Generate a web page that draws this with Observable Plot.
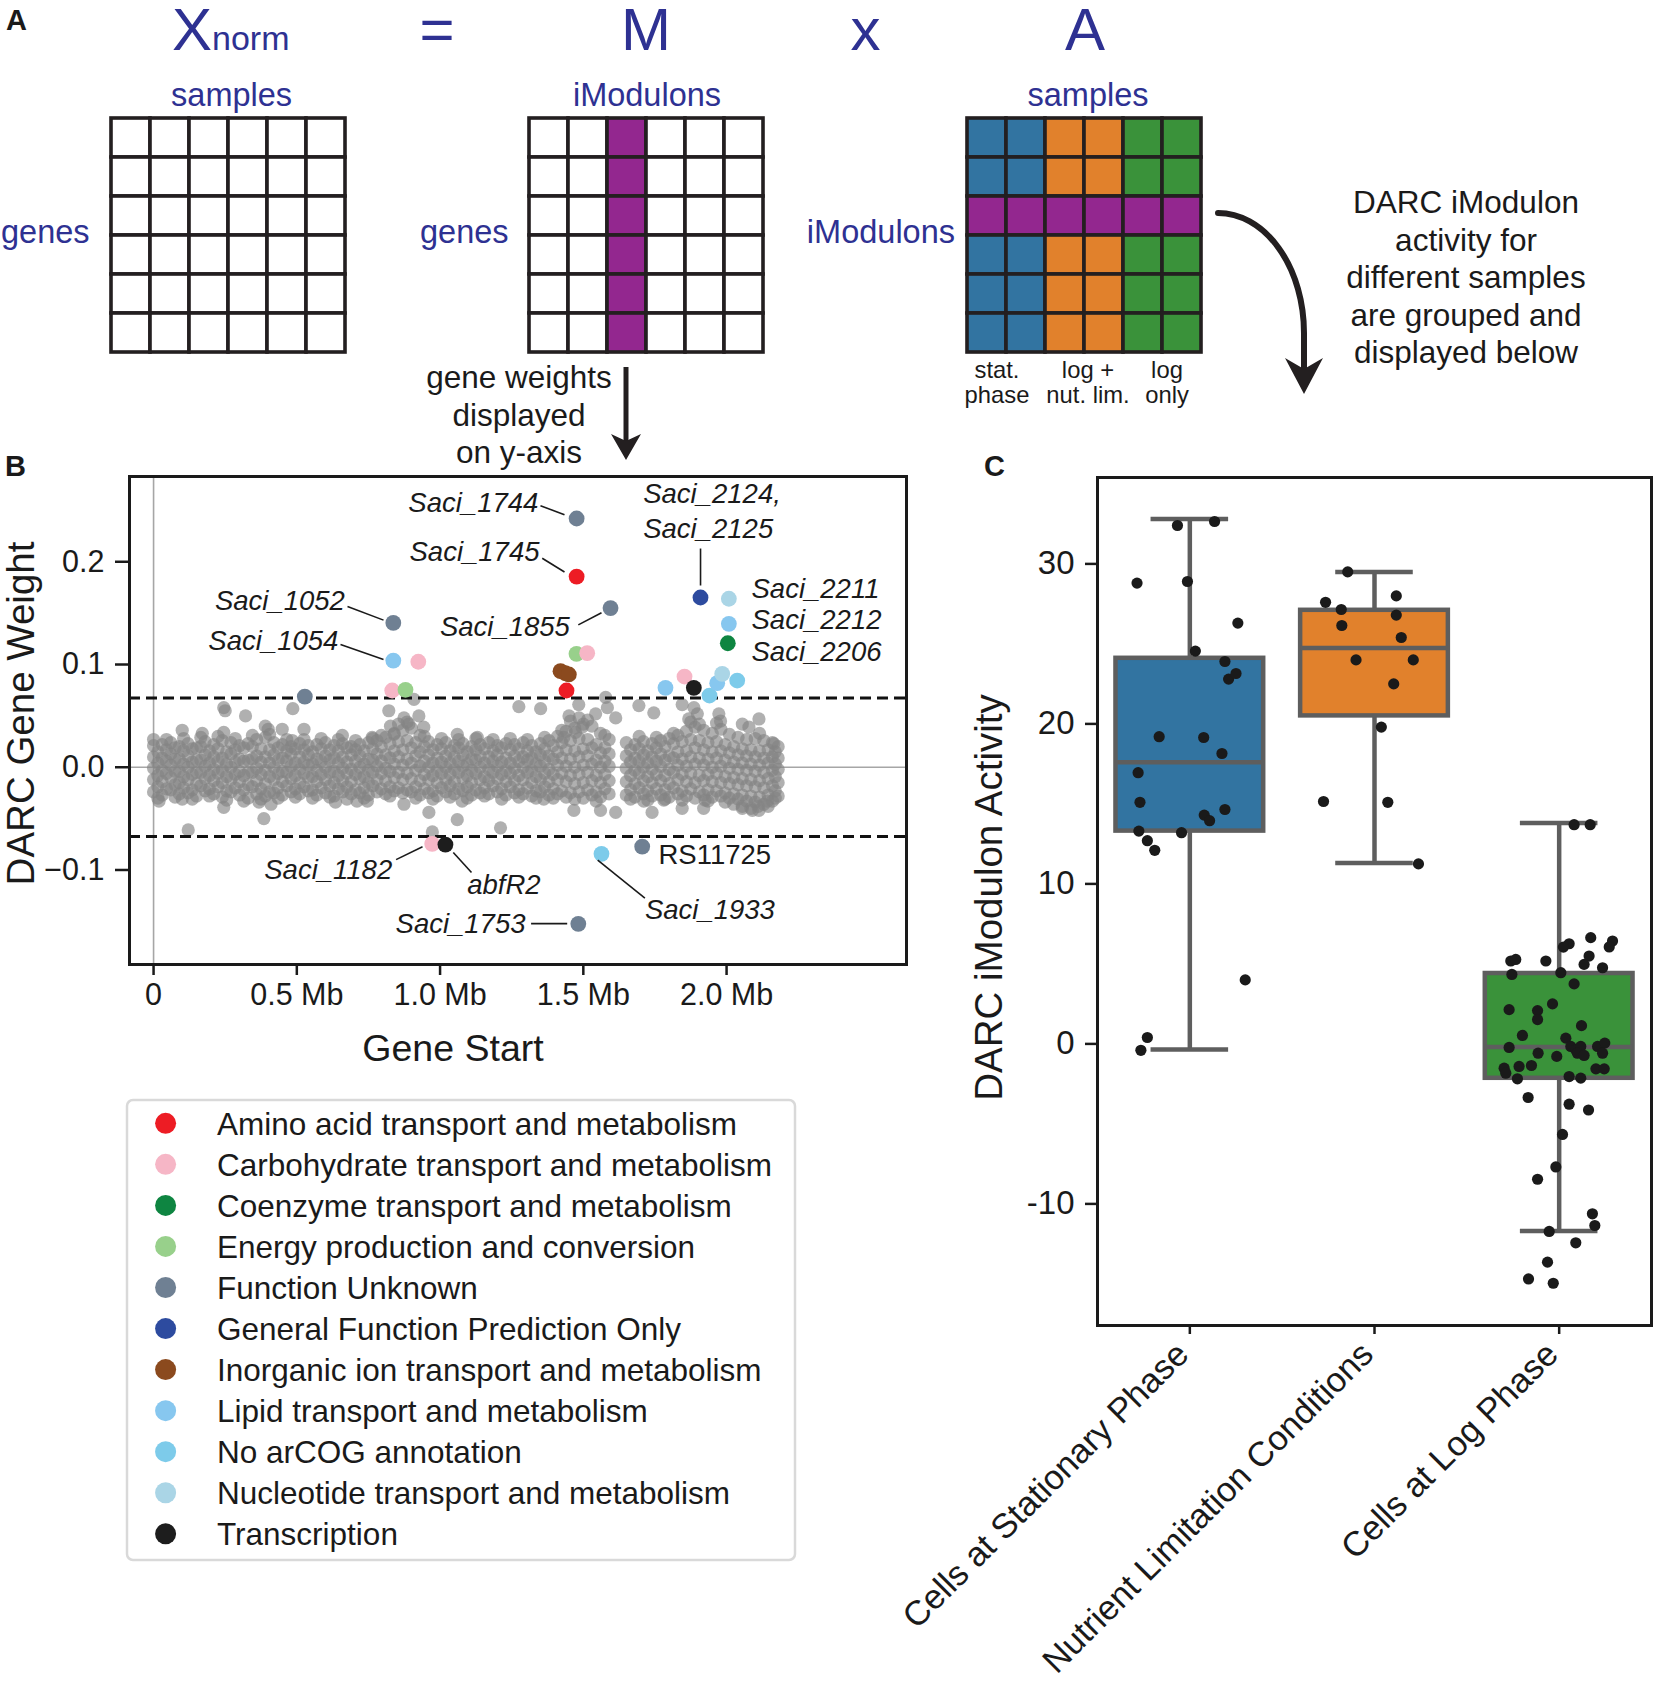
<!DOCTYPE html>
<html><head><meta charset="utf-8">
<script src="https://cdn.jsdelivr.net/npm/d3@7"></script>
<script src="https://cdn.jsdelivr.net/npm/@observablehq/plot@0.6"></script>
<style>
body{margin:0;background:#fff;}
#page{position:relative;width:1655px;height:1682px;overflow:hidden;background:#fff;font-family:"Liberation Sans",Arial,sans-serif;}
.holder{position:absolute;}
.holder svg{max-width:none;display:block;}
</style></head><body><div id="page"></div>
<script>
const FONT = "'Liberation Sans', Arial, Helvetica, sans-serif";

// ---------------- Panel A: matrix schematic ----------------
const matrixRows = [0, 1, 2, 3, 4, 5];
const matrixCols = [0, 1, 2, 3, 4, 5];
const highlightedCol = 2;      // DARC iModulon column in M
const highlightedRow = 2;      // DARC iModulon row in A
const sampleGroupOfCol = ["stat", "stat", "nut", "nut", "log", "log"];
const sampleGroupColor = {stat: "#3274a1", nut: "#e1812c", log: "#3a923a"};
const imodulonColor = "#93278f";

// ---------------- Panel B: gene weights ----------------
const cogCategories = [
  "Amino acid transport and metabolism",
  "Carbohydrate transport and metabolism",
  "Coenzyme transport and metabolism",
  "Energy production and conversion",
  "Function Unknown",
  "General Function Prediction Only",
  "Inorganic ion transport and metabolism",
  "Lipid transport and metabolism",
  "No arCOG annotation",
  "Nucleotide transport and metabolism",
  "Transcription"
];
const cogColors = ["#ed1c24", "#f6b6c6", "#0e8541", "#98d08b", "#6f8093", "#2d4b9f",
                   "#8b4a1e", "#87c7ef", "#7dcbea", "#aad5e6", "#1d1d1d"];

const darcThreshold = 0.0675;

// dense core of genes: start position (Mb) and weights (x 1/1000), read column by column
const coreStartMb = [0,0.03,0.06,0.09,0.12,0.15,0.18,0.21,0.24,0.27,0.30,0.33,0.36,0.39,0.42,0.45,0.48,0.51,0.54,0.57,0.60,0.63,0.66,0.69,0.72,0.75,0.78,0.81,0.84,0.87,0.90,0.93,0.96,0.99,1.02,1.05,1.08,1.11,1.14,1.17,1.20,1.23,1.26,1.29,1.32,1.35,1.38,1.41,1.44,1.47,1.50,1.53,1.56,1.59,1.65,1.68,1.71,1.74,1.77,1.80,1.83,1.86,1.89,1.92,1.95,1.98,2.01,2.04,2.07,2.10,2.13,2.16,2.18];
const coreWeightMilli = [
  [-24,-12,-1,10,21],[-27,-14,-3,9,22],[-22,-10,2,13,24],[-26,-15,-4,8,20],[-25,-12,0,11,23],
  [-28,-16,-5,7,19],[-23,-11,1,12,25],[-26,-13,-2,10,22],[-29,-15,-3,9,26],[-24,-12,0,13,24],
  [-27,-14,-4,8,21],[-30,-17,-5,7,23],[-26,-13,-1,11,27],[-28,-16,-3,10,29],[-25,-12,0,12,24],
  [-27,-14,-4,9,22],[-24,-11,1,13,20],[-26,-15,-2,10,23],[-23,-10,2,12,21],[-27,-14,-3,8,22],
  [-25,-12,0,11,24],[-28,-15,-4,9,21],[-24,-13,-1,10,23],[-26,-14,-2,12,20],[-25,-11,0,11,22],
  [-27,-15,-3,8,24],[-24,-12,1,13,26],[-26,-13,-1,12,29],[-23,-10,3,16,33],[-25,-12,2,17,36],
  [-24,-11,4,19,38],[-27,-13,1,15,31],[-25,-12,0,12,25],[-28,-15,-3,9,22],[-24,-12,0,11,24],
  [-26,-14,-2,10,21],[-23,-11,1,12,23],[-27,-15,-3,8,20],[-25,-12,0,11,22],[-26,-13,-2,10,24],
  [-24,-11,1,12,21],[-27,-14,-3,9,23],[-25,-13,-1,11,22],[-26,-12,0,10,24],[-28,-15,-3,9,21],
  [-24,-12,1,12,23],[-27,-14,-2,11,26],[-26,-12,2,15,30],[-29,-14,1,17,35],[-31,-16,0,16,38],
  [-30,-15,2,18,42],[-27,-13,3,19,40],[-29,-15,0,14,33],[-26,-13,1,13,27],
  [-27,-14,-1,11,24],[-29,-16,-3,9,22],[-26,-13,0,12,25],[-28,-15,-2,10,23],[-27,-13,1,13,26],
  [-29,-16,-2,11,28],[-26,-12,2,15,31],[-28,-14,1,16,35],[-30,-15,3,19,39],[-27,-13,2,17,36],
  [-29,-14,0,15,33],[-28,-15,1,16,37],[-30,-16,-1,14,32],[-31,-17,-2,12,29],[-33,-18,-3,11,27],
  [-34,-19,-4,10,28],[-36,-20,-5,9,26],[-33,-18,-3,10,24],[-28,-15,-2,9,20]
];
// genes lying between those columns
const midStartMb = [0.015,0.045,0.075,0.105,0.135,0.165,0.195,0.225,0.255,0.285,0.315,0.345,0.375,0.405,0.435,0.465,0.495,0.525,0.555,0.585,0.615,0.645,0.675,0.705,0.735,0.765,0.795,0.825,0.855,0.885,0.915,0.945,0.975,1.005,1.035,1.065,1.095,1.125,1.155,1.185,1.215,1.245,1.275,1.305,1.335,1.365,1.395,1.425,1.455,1.485,1.515,1.545,1.575,1.665,1.695,1.725,1.755,1.785,1.815,1.845,1.875,1.905,1.935,1.965,1.995,2.025,2.055,2.085,2.115,2.145,2.17];
const midWeightMilli = [
  [-19,-8,4,15,-30],[-21,-6,6,17,27],[-17,-4,8,19,-29],[-20,-9,3,16,28],[-22,-7,5,18,-31],
  [-18,-5,7,20,29],[-21,-8,4,16,-28],[-19,-6,6,18,30],[-23,-9,3,15,-32],[-20,-7,5,17,28],
  [-22,-8,6,19,-33],[-19,-5,8,20,31],[-21,-7,5,18,-31],[-24,-9,4,17,32],[-20,-6,7,19,-30],
  [-18,-5,6,16,27],[-21,-8,4,18,-29],[-19,-6,5,17,27],[-22,-9,3,15,-30],[-20,-7,6,18,28],
  [-18,-5,7,17,-29],[-21,-8,4,16,27],[-19,-6,5,19,-31],[-22,-7,6,17,26],[-20,-9,3,16,-30],
  [-18,-5,7,18,28],[-21,-6,6,20,31],[-19,-4,9,23,-28],[-20,-5,10,25,42],[-22,-6,8,26,44],
  [-19,-3,11,24,-30],[-21,-7,6,20,30],[-23,-8,4,17,-31],[-20,-6,5,18,28],[-18,-7,4,16,-29],
  [-21,-5,6,19,27],[-19,-8,3,15,-30],[-22,-6,7,17,28],[-20,-9,4,18,-28],[-18,-5,6,16,27],
  [-21,-7,5,19,-31],[-19,-6,4,17,28],[-22,-8,6,18,-29],[-20,-5,7,16,27],[-23,-9,3,15,-30],
  [-19,-6,6,18,29],[-21,-7,8,21,-30],[-23,-6,9,24,36],[-25,-8,8,26,45],[-24,-7,10,28,48],
  [-22,-5,11,27,46],[-24,-8,7,22,-33],[-21,-7,6,19,31],
  [-22,-8,5,17,-31],[-20,-6,6,18,30],[-23,-9,4,16,-32],[-21,-7,6,19,29],[-22,-8,7,20,-31],
  [-20,-5,9,23,33],[-23,-7,8,25,-32],[-21,-6,10,27,44],[-24,-8,9,26,42],[-22,-7,8,24,-33],
  [-23,-6,9,25,43],[-25,-9,7,22,-34],[-26,-10,5,20,-36],[-27,-11,4,18,-38],[-28,-12,3,17,-40],
  [-29,-13,2,16,33],[-27,-11,4,17,-38],[-23,-9,3,15,-30]
];
// scattered genes outside the core (gray)
const outlierStartMb = [0.245,0.25,0.321,0.486,0.525,0.484,0.39,0.40,0.449,0.10,0.0,0.368,0.41,0.385,0.121,0.019,0.10,0.245,0.635,0.71,0.659,0.245,0.17,0.821,0.909,0.874,0.926,0.943,0.891,0.827,0.839,0.763,1.06,1.275,1.351,1.45,1.484,1.432,1.473,1.496,1.13,0.961,1.06,1.211,1.467,0.874,1.077,1.362,0.746,0.973,1.578,1.584,1.694,1.746,1.845,1.886,1.868,1.898,1.973,1.979,2.113,2.055,2.078,1.543,1.613,2.165,1.56,1.613,1.711,1.74,1.781,1.845,1.92,1.925,2.055,2.09,2.11,2.113,2.142];
const outlierWeightMilli = [58,55,50,57,37,26,40,37,37,36,27,-34,-36,-50,-61,-33,-31,-39,-34,-33,31,34,33,55,66,48,50,39,42,40,32,29,32,59,57,50,61,29,34,39,29,-44,-51,-59,-42,-36,-33,-31,-33,-63,68,58,60,53,61,58,47,52,52,45,47,42,39,52,48,23,-42,-44,-33,-44,-32,-40,-40,-32,-40,-42,-38,-42,-33];

// iModulon member genes (coloured by arCOG)
const hitStartMb = [1.4766,1.4766,1.4825,0.8368,0.8368,0.924,1.595,1.909,2.008,2.008,2.0043,0.5279,0.833,0.8793,1.4762,1.5135,1.4204,1.437,1.4494,1.4413,0.9725,1.0187,1.8532,1.7868,1.8857,1.9404,1.9673,1.9848,2.0371,1.7055,1.5634];
const hitWeight  = [0.2421,0.1856,-0.1524,0.1405,0.1038,0.1027,0.1549,0.1652,0.164,0.1396,0.1207,0.0688,0.0747,0.0754,0.1104,0.111,0.0935,0.0915,0.0903,0.0747,-0.0746,-0.0753,0.0883,0.0773,0.0773,0.0698,0.0818,0.0909,0.0844,-0.0772,-0.0843];
const hitCog     = [4,0,4,4,7,1,4,5,9,7,2,4,1,3,3,1,6,6,6,0,1,10,1,7,10,8,7,9,8,4,8];

// gene labels: text, Mb, weight, anchor
const geneLabels = [
  ["Saci_1744", 1.3429, 0.2568, "end"], ["Saci_1745", 1.347, 0.2089, "end"],
  ["Saci_1052", 0.6678, 0.1613, "end"], ["Saci_1054", 0.6448, 0.1224, "end"],
  ["Saci_1855", 1.4532, 0.1367, "end"], ["Saci_1182", 0.8329, -0.1006, "end"],
  ["Saci_1753", 1.2982, -0.1532, "end"],
  ["Saci_2124,", 1.709, 0.2655, "start"], ["Saci_2125", 1.709, 0.2318, "start"],
  ["Saci_2211", 2.087, 0.1737, "start"], ["Saci_2212", 2.087, 0.1428, "start"],
  ["Saci_2206", 2.087, 0.112, "start"], ["abfR2", 1.0947, -0.1152, "start"],
  ["Saci_1933", 1.715, -0.1395, "start"]
];
const locusLabel = ["RS11725", 1.7624, -0.086];
const labelLeaders = [
  [1.3505,0.2546,1.4343,0.2457],[1.3565,0.2034,1.4343,0.1901],[0.6769,0.1565,0.8026,0.1432],
  [0.6525,0.1195,0.8026,0.1049],[1.4825,0.1386,1.5635,0.1504],[1.9091,0.2129,1.9091,0.1769],
  [0.8465,-0.0899,0.9387,-0.0774],[1.1097,-0.1025,1.0462,-0.0829],[1.3177,-0.1522,1.4437,-0.1522],
  [1.5502,-0.0905,1.7149,-0.1273]
];
const weightTicks = [-0.1, 0, 0.1, 0.2];
const startTicks = [0, 0.5, 1.0, 1.5, 2.0];

// ---------------- Panel C: iModulon activity ----------------
const groupNames = ["Cells at Stationary Phase", "Nutrient Limitation Conditions", "Cells at Log Phase"];
const groupColors = ["#3274a1", "#e1812c", "#3a923a"];
const whiskerLow  = [-0.35, 11.3, -11.7];
const quartile1   = [13.3, 20.5, -2.15];
const medianAct   = [17.6, 24.75, -0.2];
const quartile3   = [24.1, 27.1, 4.4];
const whiskerHigh = [32.8, 29.5, 13.8];
const stationaryActivity = [32.4,32.65,28.8,28.9,26.3,24.55,23.9,22.8,23.15,19.2,19.15,18.15,16.95,15.1,14.3,13.95,14.65,13.3,12.7,12.1,13.2,4.0,0.4,-0.4];
const stationaryJitter   = [-0.067,0.134,-0.286,-0.013,0.26,0.03,0.19,0.21,0.25,-0.166,0.075,0.174,-0.28,-0.27,0.078,0.107,0.19,-0.276,-0.23,-0.19,-0.045,0.30,-0.23,-0.265];
const nutrientActivity = [29.5,27.6,27.15,28.0,26.15,26.8,25.4,24.0,24.0,22.5,19.8,15.15,15.1,11.25];
const nutrientJitter   = [-0.145,-0.265,-0.18,0.118,-0.177,0.118,0.145,-0.10,0.21,0.104,0.037,-0.276,0.072,0.238];
const logActivity = [6.64,6.43,6.06,6.26,6.05,5.49,4.97,4.76,5.18,5.28,5.18,4.34,4.45,3.75,2.14,2.08,1.52,2.5,1.14,0.53,0.36,-0.22,-0.16,-0.37,-0.16,-0.58,-0.72,-0.16,0.05,-0.58,-0.58,-0.78,-1.52,-1.83,-1.41,-1.35,-2.18,-1.56,-1.56,-2.04,-2.14,-3.35,-3.77,-4.13,-5.66,-7.69,-8.46,-10.62,-11.35,-11.72,-12.43,-13.64,-14.69,-14.96,13.7,13.7];
const logJitter   = [0.171,0.289,0.271,0.054,0.023,0.162,0.135,0.235,-0.262,-0.235,-0.072,-0.256,0.009,0.081,-0.271,-0.117,-0.117,-0.036,0.121,-0.199,0.036,-0.271,0.063,0.09,0.117,0.099,0.135,0.208,0.247,0.235,-0.114,-0.013,-0.298,-0.289,-0.217,-0.15,-0.226,0.199,0.244,0.054,0.117,-0.168,0.054,0.159,0.018,-0.018,-0.117,0.18,0.193,-0.054,0.09,-0.063,-0.166,-0.032,0.081,0.168];
const activityTicks = [-10, 0, 10, 20, 30];

// ================= build =================
const page = document.getElementById("page");
function place(node, left, top) {
  const d = document.createElement("div");
  d.className = "holder";
  d.style.left = left + "px"; d.style.top = top + "px";
  d.appendChild(node); page.appendChild(d); return d;
}
const baseStyle = {fontFamily: FONT, background: "transparent", color: "#1a1a1a", overflow: "visible"};

// ---- Panel A matrices ----
function matrixPlot(fillOf) {
  const cells = matrixRows.flatMap(r => matrixCols.map(c => ({r, c, fill: fillOf(r, c)})));
  return Plot.plot({
    width: 240, height: 240, margin: 2, style: baseStyle,
    x: {type: "band", domain: matrixCols, padding: 0, axis: null},
    y: {type: "band", domain: matrixRows, padding: 0, axis: null},
    color: {type: "identity"},
    marks: [Plot.cell(cells, {x: "c", y: "r", fill: "fill", stroke: "#231f20", strokeWidth: 3.6, inset: 0})]
  });
}
place(matrixPlot(() => "#ffffff"), 107.6, 115.3);
place(matrixPlot((r, c) => c === highlightedCol ? imodulonColor : "#ffffff"), 525.8, 115.3);
place(matrixPlot((r, c) => r === highlightedRow ? imodulonColor : sampleGroupColor[sampleGroupOfCol[c]]), 963.8, 115.3);

// ---- Panel B ----
const grayGenes = [];
coreStartMb.forEach((x, i) => coreWeightMilli[i].forEach(w => grayGenes.push({x, y: w / 1000})));
midStartMb.forEach((x, i) => midWeightMilli[i].forEach(w => grayGenes.push({x, y: w / 1000})));
outlierStartMb.forEach((x, i) => grayGenes.push({x, y: outlierWeightMilli[i] / 1000}));
const hits = hitStartMb.map((x, i) => ({x, y: hitWeight[i], cog: hitCog[i]}));
const labels = geneLabels.map(([t, x, y, a]) => ({t, x, y, a}));
const labelFont = 27.5;

const plotB = Plot.plot({
  width: 960, height: 640,
  marginLeft: 129, marginRight: 54, marginTop: 36, marginBottom: 116,
  style: baseStyle,
  x: {domain: [-0.084, 2.628]},
  y: {domain: [-0.192, 0.283]},
  marks: [
    Plot.ruleX([0], {stroke: "#a6a6a6", strokeWidth: 1.6}),
    Plot.ruleY([0], {stroke: "#a6a6a6", strokeWidth: 1.6}),
    Plot.dot(grayGenes, {x: "x", y: "y", r: 6.6, fill: "#838383", fillOpacity: 0.64}),
    Plot.ruleY([darcThreshold, -darcThreshold], {stroke: "#111", strokeWidth: 3, strokeDasharray: "11,6"}),
    Plot.dot(hits, {x: "x", y: "y", r: 7.9, fill: d => cogColors[d.cog]}),
    Plot.link(labelLeaders, {x1: d => d[0], y1: d => d[1], x2: d => d[2], y2: d => d[3], stroke: "#1a1a1a", strokeWidth: 1.6}),
    Plot.text(labels.filter(d => d.a === "end"), {x: "x", y: "y", text: "t", textAnchor: "end", lineAnchor: "middle", fontSize: labelFont, fontStyle: "italic", fill: "#1a1a1a"}),
    Plot.text(labels.filter(d => d.a === "start"), {x: "x", y: "y", text: "t", textAnchor: "start", lineAnchor: "middle", fontSize: labelFont, fontStyle: "italic", fill: "#1a1a1a"}),
    Plot.text([locusLabel], {x: d => d[1], y: d => d[2], text: d => d[0], textAnchor: "start", lineAnchor: "middle", fontSize: labelFont, fill: "#1a1a1a"}),
    Plot.frame({stroke: "#1a1a1a", strokeWidth: 3}),
    Plot.axisY({ticks: weightTicks, tickFormat: d => d === 0 ? "0.0" : (d < 0 ? "\u2212" : "") + Math.abs(d).toFixed(1),
                tickSize: 14, tickPadding: 11, fontSize: 30.5, strokeWidth: 2.5, label: null}),
    Plot.axisX({ticks: startTicks, tickFormat: d => d === 0 ? "0" : d.toFixed(1) + " Mb",
                tickSize: 11, tickPadding: 8, fontSize: 30.5, strokeWidth: 2.5, label: null}),
    Plot.text(["DARC Gene Weight"], {frameAnchor: "left", textAnchor: "middle", lineAnchor: "middle", dx: -108, dy: -7, rotate: -90, fontSize: 38.5, fill: "#1a1a1a"}),
    Plot.text(["Gene Start"], {frameAnchor: "bottom", textAnchor: "middle", lineAnchor: "middle", dx: -65, dy: 84, fontSize: 37.5, fill: "#1a1a1a"})
  ]
});
place(plotB, 0, 440);

// ---- Panel C ----
const boxes = groupNames.map((g, i) => ({i, lo: whiskerLow[i], q1: quartile1[i], med: medianAct[i], q3: quartile3[i], hi: whiskerHigh[i], color: groupColors[i]}));
const samples = [
  ...stationaryActivity.map((v, k) => ({g: 0, v, off: stationaryJitter[k]})),
  ...nutrientActivity.map((v, k) => ({g: 1, v, off: nutrientJitter[k]})),
  ...logActivity.map((v, k) => ({g: 2, v, off: logJitter[k]}))
];
const boxGray = "#5e5e5e", boxLW = 4.5;
const plotC = Plot.plot({
  width: 775, height: 1242,
  marginLeft: 217, marginRight: 4, marginTop: 37, marginBottom: 357,
  style: baseStyle,
  x: {domain: [-0.5, 2.5]},
  y: {domain: [-17.6, 35.4]},
  marks: [
    Plot.ruleX(boxes, {x: "i", y1: "q3", y2: "hi", stroke: boxGray, strokeWidth: boxLW}),
    Plot.ruleX(boxes, {x: "i", y1: "lo", y2: "q1", stroke: boxGray, strokeWidth: boxLW}),
    Plot.ruleY(boxes, {y: "hi", x1: d => d.i - 0.21, x2: d => d.i + 0.21, stroke: boxGray, strokeWidth: boxLW}),
    Plot.ruleY(boxes, {y: "lo", x1: d => d.i - 0.21, x2: d => d.i + 0.21, stroke: boxGray, strokeWidth: boxLW}),
    Plot.rect(boxes, {x1: d => d.i - 0.4, x2: d => d.i + 0.4, y1: "q1", y2: "q3", fill: d => d.color, stroke: boxGray, strokeWidth: boxLW}),
    Plot.ruleY(boxes, {y: "med", x1: d => d.i - 0.4, x2: d => d.i + 0.4, stroke: boxGray, strokeWidth: boxLW}),
    Plot.dot(samples, {x: d => d.g + d.off, y: "v", r: 5.6, fill: "#1a1a1a"}),
    Plot.frame({stroke: "#1a1a1a", strokeWidth: 3}),
    Plot.axisY({ticks: activityTicks, tickFormat: d => String(d), tickSize: 12, tickPadding: 11, fontSize: 33, strokeWidth: 2.5, label: null}),
    Plot.axisX({ticks: [0, 1, 2], tickFormat: () => "", tickSize: 9, strokeWidth: 2.5, label: null}),
    Plot.text(groupNames, {x: (d, i) => i, frameAnchor: "bottom", rotate: -45, textAnchor: "end", lineAnchor: "middle", dx: -7, dy: 23, fontSize: 34.5, fill: "#1a1a1a"}),
    Plot.text(["DARC iModulon Activity"], {frameAnchor: "left", textAnchor: "middle", lineAnchor: "middle", dx: -108, dy: -4, rotate: -90, fontSize: 38.5, fill: "#1a1a1a"})
  ]
});
place(plotC, 880, 440);

// ---- overlay: panel A texts, arrows, panel letters, legend ----
const W = 1655, H = 1682;
const ov = d3.create("svg").attr("width", W).attr("height", H)
  .style("position", "absolute").style("left", "0px").style("top", "0px").style("pointer-events", "none")
  .attr("font-family", FONT);
function txt(x, y, s, size, o = {}) {
  return ov.append("text").attr("x", x).attr("y", y).attr("font-size", size)
    .attr("text-anchor", o.anchor || "start").attr("fill", o.fill || "#1a1a1a")
    .attr("font-weight", o.weight || "normal").text(s);
}
const blue = "#2e3192";
txt(6, 30, "A", 29, {weight: "bold"});
txt(5, 476, "B", 29, {weight: "bold"});
txt(984, 476, "C", 29, {weight: "bold"});
txt(172, 50, "X", 60, {fill: blue});
txt(212, 50, "norm", 34, {fill: blue});
txt(437, 50, "=", 60, {fill: blue, anchor: "middle"});
txt(646, 50, "M", 60, {fill: blue, anchor: "middle"});
txt(865.5, 50, "x", 60, {fill: blue, anchor: "middle"});
txt(1085, 50, "A", 60, {fill: blue, anchor: "middle"});
txt(231.6, 106, "samples", 32.5, {fill: blue, anchor: "middle"});
txt(647, 106, "iModulons", 32.5, {fill: blue, anchor: "middle"});
txt(1088, 106, "samples", 32.5, {fill: blue, anchor: "middle"});
txt(1, 243, "genes", 32.5, {fill: blue});
txt(420, 243, "genes", 32.5, {fill: blue});
txt(955, 243, "iModulons", 32.5, {fill: blue, anchor: "end"});
[["gene weights", 388], ["displayed", 425.5], ["on y-axis", 462.5]].forEach(([s, y]) => txt(519, y, s, 31.5, {anchor: "middle"}));
[["DARC iModulon", 213], ["activity for", 250.5], ["different samples", 288], ["are grouped and", 325.5], ["displayed below", 363]]
  .forEach(([s, y]) => txt(1466, y, s, 31.5, {anchor: "middle"}));
[["stat.", "phase", 997], ["log +", "nut. lim.", 1088], ["log", "only", 1167]].forEach(([a, b, x]) => {
  txt(x, 378, a, 23.8, {anchor: "middle"}); txt(x, 403, b, 23.8, {anchor: "middle"});
});
// straight arrow
ov.append("line").attr("x1", 626).attr("y1", 367).attr("x2", 626).attr("y2", 442).attr("stroke", "#231f20").attr("stroke-width", 5);
ov.append("path").attr("d", "M611,434 L626,460 L641,434 L626,441 Z").attr("fill", "#231f20");
// curved arrow
ov.append("path").attr("d", "M1218,213 A86,120 0 0 1 1304,333 L1304,368").attr("fill", "none").attr("stroke", "#231f20").attr("stroke-width", 6).attr("stroke-linecap", "round");
ov.append("path").attr("d", "M1285,358 L1304,394 L1323,358 L1304,369 Z").attr("fill", "#231f20");

// legend
ov.append("rect").attr("x", 127).attr("y", 1100).attr("width", 668).attr("height", 460).attr("rx", 6)
  .attr("fill", "#fff").attr("stroke", "#d9d9d9").attr("stroke-width", 2.5);
cogCategories.forEach((c, i) => {
  const cy = 1123.3 + i * 41.05;
  ov.append("circle").attr("cx", 165.6).attr("cy", cy).attr("r", 10.5).attr("fill", cogColors[i]);
  txt(217, cy + 11.2, c, 31.5);
});
page.appendChild(ov.node());
</script></body></html>
